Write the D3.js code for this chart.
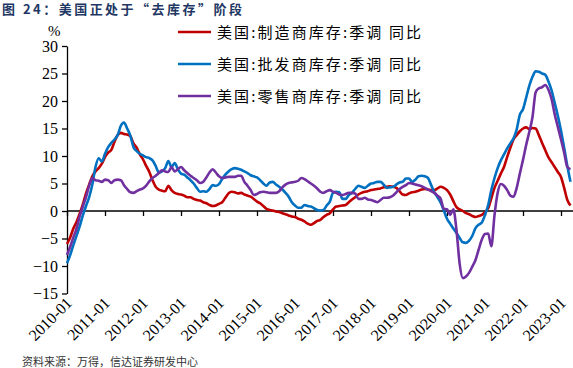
<!DOCTYPE html>
<html>
<head>
<meta charset="utf-8">
<script src="https://cdn.jsdelivr.net/npm/d3@7"></script>
<style>
  body { margin: 0; background: #fff; }
  svg { display: block; }
</style>
</head>
<body>
<svg id="chart"></svg>
<script>
var WIDTH = 573;
var HEIGHT = 368;

// monthly, 2010-01 .. 2023-04
var xTickLabels = ["2010-01","2011-01","2012-01","2013-01","2014-01","2015-01","2016-01",
  "2017-01","2018-01","2019-01","2020-01","2021-01","2022-01","2023-01"];
var yTicks = [-15, -10, -5, 0, 5, 10, 15, 20, 25, 30];

var seriesNames = ["美国:制造商库存:季调 同比", "美国:批发商库存:季调 同比", "美国:零售商库存:季调 同比"];

var manufacturing = [
  -6.0,-4.8,-3.2,-2.0,-0.5,1.2,3.2,4.8,6.3,7.2,7.8,8.6,
  9.8,10.6,11.1,12.6,13.8,14.2,14.0,13.9,13.6,12.3,11.5,10.3,
  9.4,8.2,7.1,5.6,4.4,3.9,3.7,3.6,4.6,3.8,3.3,3.1,
  3.0,2.8,2.5,2.5,2.2,2.0,1.9,1.6,1.4,1.1,0.9,1.0,
  1.3,1.6,2.4,3.2,3.5,3.4,3.2,3.3,3.0,2.8,2.6,2.2,
  1.7,1.4,0.9,0.4,0.2,0.1,-0.1,-0.2,-0.4,-0.6,-0.8,-1.0,
  -1.1,-1.4,-1.6,-1.9,-2.3,-2.5,-2.2,-1.8,-1.6,-1.1,-0.7,-0.4,
  0.3,0.8,0.9,1.0,1.1,1.6,2.1,2.5,3.0,3.3,3.5,3.6,
  3.8,3.9,4.0,4.1,4.3,4.4,4.5,4.4,4.2,3.6,3.0,2.9,
  3.2,3.4,3.5,3.7,3.9,4.0,3.9,3.8,3.8,4.1,4.4,4.2,
  3.8,3.0,1.8,0.7,0.3,0.0,-0.4,-0.6,-0.9,-1.1,-0.9,-0.7,
  -0.2,0.5,2.3,4.2,5.5,6.8,8.0,9.8,11.5,13.0,13.8,14.5,
  15.0,15.2,14.9,15.1,15.0,13.8,12.4,11.1,9.8,8.9,8.0,7.1,
  6.2,4.2,2.0,1.0
];

var wholesale = [
  -9.5,-8.0,-6.2,-4.5,-2.8,-0.8,0.9,2.5,4.8,8.0,9.6,9.0,
  10.4,11.6,12.4,13.0,13.8,15.5,16.1,15.0,13.7,11.6,10.9,10.4,
  10.1,9.8,9.6,9.2,8.2,7.0,7.2,7.8,9.1,8.0,8.7,7.6,
  6.8,6.6,6.1,5.6,5.0,4.2,3.5,3.6,3.5,4.0,4.7,4.6,
  4.9,5.8,6.6,7.2,7.6,7.8,7.7,7.5,7.2,6.9,6.5,6.3,
  6.1,5.6,5.0,4.6,5.2,5.3,4.8,4.4,3.9,3.3,2.6,1.6,
  1.0,0.6,0.6,1.1,0.9,0.8,0.5,0.2,0.1,0.2,1.0,1.7,
  3.3,3.5,3.4,2.2,2.2,2.9,3.3,4.0,4.6,4.4,4.2,4.6,
  5.0,5.1,5.3,5.3,4.8,4.2,4.3,4.4,4.8,5.2,5.3,5.9,
  5.9,5.3,5.7,6.3,6.4,6.3,6.0,4.7,3.4,2.5,1.5,0.1,
  -1.4,-2.3,-3.2,-4.0,-4.9,-5.7,-5.8,-5.4,-4.5,-3.1,-2.5,-2.1,
  -0.7,1.1,3.8,6.0,7.8,9.2,10.3,11.4,12.3,13.2,14.8,17.5,
  18.5,20.6,22.8,24.4,25.4,25.3,25.0,24.8,23.6,22.0,19.7,17.3,
  14.6,11.5,8.2,5.3
];

var retail = [
  -8.0,-6.5,-4.8,-3.2,-1.0,0.8,2.5,4.6,6.0,5.6,5.5,5.3,
  5.7,5.6,5.1,5.6,5.7,5.6,4.7,4.0,3.4,3.3,3.6,3.9,
  4.1,4.6,5.4,6.0,6.4,6.9,7.4,7.2,7.1,8.0,7.2,7.6,
  8.0,7.4,6.9,6.4,6.0,5.6,5.1,5.3,6.1,7.0,7.6,7.0,
  6.3,6.0,6.1,6.2,6.2,6.2,6.4,6.4,5.3,4.6,3.8,2.9,
  3.1,3.4,3.5,3.4,3.3,3.3,3.3,3.6,4.3,4.8,5.1,5.2,
  5.3,5.5,6.0,5.8,5.4,5.0,4.6,4.1,3.5,3.3,3.6,3.8,
  3.5,3.3,3.0,2.9,3.1,3.3,3.3,3.2,2.2,2.2,2.4,2.1,
  2.0,1.8,1.6,2.0,2.4,2.4,2.5,2.8,3.4,4.0,4.4,4.7,
  5.1,5.0,4.8,4.7,4.5,4.2,3.9,3.6,3.3,2.8,2.2,0.4,
  0.3,-0.7,0.3,-3.5,-9.6,-12.2,-11.9,-11.2,-10.1,-8.9,-7.0,-5.2,
  -4.2,-4.1,-6.4,-0.8,3.3,4.9,4.6,3.8,2.8,2.6,4.2,6.8,
  9.3,12.0,14.4,17.1,21.6,22.3,22.5,22.9,22.1,20.4,17.6,15.3,
  13.0,10.6,8.0,7.6
];

var seriesColors = ["#C00000", "#0070C0", "#7030A0"];
var allSeries = [manufacturing, wholesale, retail];

var svg = d3.select("#chart").attr("width", WIDTH).attr("height", HEIGHT);

//scales
var x = d3.scaleLinear().domain([0, 159]).range([67, 570.5]);
var y = d3.scaleLinear().domain([-15, 30]).range([293.5, 46]);

//title
svg.append("text")
  .attr("x", 2).attr("y", 14)
  .attr("textLength", 240)
  .attr("lengthAdjust", "spacing")
  .style("font-family", "'Noto Sans CJK SC', sans-serif")
  .style("font-size", "13px")
  .style("font-weight", "bold")
  .style("fill", "#1f3864")
  .text("图 24：美国正处于“去库存”阶段");

//unit
svg.append("text")
  .attr("x", 48).attr("y", 36)
  .style("font-family", "'Liberation Serif', serif")
  .style("font-size", "15px")
  .text("%");

//y axis
var yAxis = svg.append("g")
  .attr("transform", "translate(67,0)")
  .call(d3.axisLeft(y).tickValues(yTicks).tickSize(5).tickPadding(4).tickSizeOuter(0));
yAxis.select(".domain").attr("stroke", "#000").attr("stroke-width", 1.3);
yAxis.selectAll("line").attr("stroke-width", 1.3);
yAxis.selectAll("text")
  .style("font-family", "'Liberation Serif', serif")
  .style("font-size", "16px")
  .attr("fill", "#000");

//x axis at zero
var monthTicks = xTickLabels.map(function (d, i) { return i * 12; });
var xAxis = svg.append("g")
  .attr("transform", "translate(0," + y(0) + ")")
  .call(d3.axisBottom(x).tickValues(monthTicks).tickSize(5).tickSizeOuter(0).tickFormat(""));
xAxis.select(".domain").attr("d", "M67,0H573").attr("stroke", "#000").attr("stroke-width", 1.3);
xAxis.selectAll("line").attr("stroke-width", 1.3);

//x tick labels, rotated, at bottom of plot
svg.append("g").selectAll("text")
  .data(xTickLabels)
  .enter()
  .append("text")
  .attr("transform", function (d, i) {
    return "translate(" + (x(i * 12) + 6) + ",304) rotate(-45)";
  })
  .attr("text-anchor", "end")
  .style("font-family", "'Liberation Serif', serif")
  .style("font-size", "16px")
  .text(function (d) { return d; });

//lines
var line = d3.line()
  .x(function (d, i) { return x(i); })
  .y(function (d) { return y(d); })
  .curve(d3.curveMonotoneX);

svg.append("g").selectAll("path")
  .data(allSeries)
  .enter()
  .append("path")
  .attr("d", line)
  .attr("fill", "none")
  .attr("stroke", function (d, i) { return seriesColors[i]; })
  .attr("stroke-width", 2.6)
  .attr("stroke-linejoin", "round");

//legend
var legend = svg.append("g").selectAll("g")
  .data(seriesNames)
  .enter()
  .append("g")
  .attr("transform", function (d, i) { return "translate(178," + (32 + i * 32) + ")"; });
legend.append("line")
  .attr("x1", 0).attr("x2", 33)
  .attr("stroke", function (d, i) { return seriesColors[i]; })
  .attr("stroke-width", 2.6);
legend.append("text")
  .attr("x", 39).attr("y", 5.5)
  .attr("textLength", 204)
  .attr("lengthAdjust", "spacing")
  .style("font-family", "'Noto Sans CJK SC', sans-serif")
  .style("font-size", "15px")
  .text(function (d) { return d; });

//source
svg.append("text")
  .attr("x", 22).attr("y", 366)
  .style("font-family", "'Noto Sans CJK SC', sans-serif")
  .style("font-size", "11px")
  .style("fill", "#333")
  .text("资料来源：万得，信达证券研发中心");
</script>
</body>
</html>
